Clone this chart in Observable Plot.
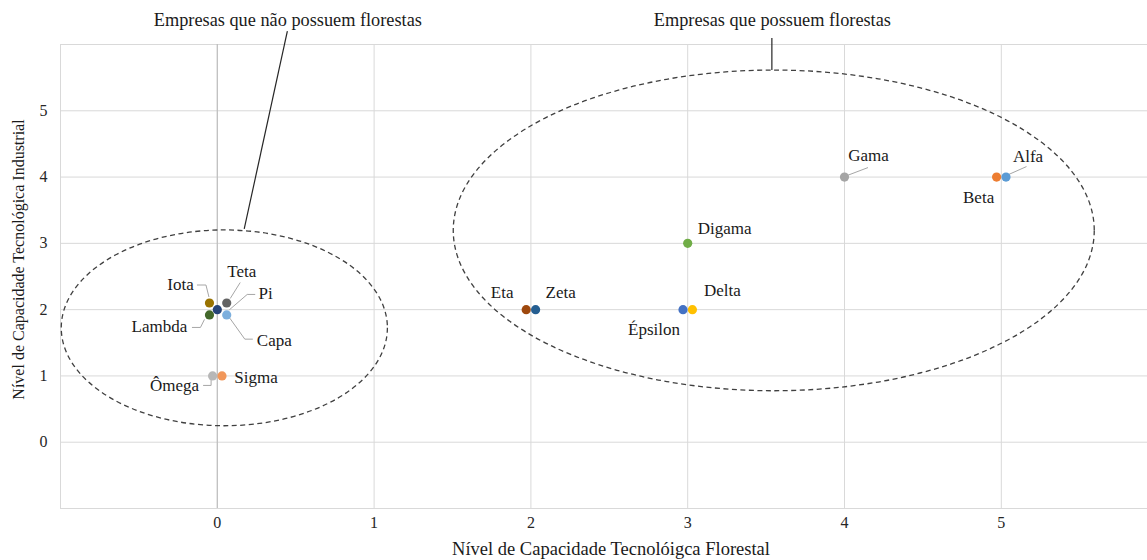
<!DOCTYPE html>
<html>
<head>
<meta charset="utf-8">
<script src="https://cdn.jsdelivr.net/npm/d3@7"></script>
<script src="https://cdn.jsdelivr.net/npm/@observablehq/plot@0.6"></script>
<style>
  html, body { margin: 0; padding: 0; background: #fff; overflow: hidden; }
</style>
</head>
<body>
<div id="chart"></div>
<script>
// ---- data ----
const empresas = ["Alfa", "Beta", "Gama", "Digama", "Delta", "Épsilon", "Zeta", "Eta", "Teta", "Iota", "Capa", "Lambda", "Pi", "Sigma", "Ômega"];
const florestal = [5.03, 4.97, 4, 3, 3.03, 2.97, 2.03, 1.97, 0.06, -0.05, 0, -0.05, 0.06, 0.03, -0.03];
const industrial = [4, 4, 4, 3, 2, 2, 2, 2, 2.1, 2.1, 2, 1.92, 1.92, 1, 1];
const cores = ["#5B9BD5", "#ED7D31", "#A5A5A5", "#70AD47", "#FFC000", "#4472C4", "#255E91", "#9E480E", "#636363", "#997300", "#264478", "#43682B", "#7CAFDD", "#F1975A", "#B7B7B7"];
const xTicks = [0, 1, 2, 3, 4, 5];
const yTicks = [0, 1, 2, 3, 4, 5];
const xTitle = "Nível de Capacidade Tecnolóigca Florestal";
const yTitle = "Nível de Capacidade Tecnológica Industrial";
const grupos = ["Empresas que não possuem florestas", "Empresas que possuem florestas"];

// ---- layout (label placement in px, ellipses / callouts in data units) ----
const labelLayout = {
  "Alfa":    {dx: 22, dy: -21, leader: [[3, -2], [21, -10]]},
  "Beta":    {dx: -18, dy: 20},
  "Gama":    {dx: 24, dy: -22, leader: [[3, -1], [24, -9]]},
  "Digama":  {dx: 37, dy: -15},
  "Delta":   {dx: 30, dy: -19},
  "Épsilon": {dx: -29, dy: 20},
  "Zeta":    {dx: 25, dy: -17},
  "Eta":     {dx: -24, dy: -17},
  "Teta":    {dx: 15, dy: -31, leader: [[4, -4], [14, -20]]},
  "Iota":    {dx: -29, dy: -18, leader: [[-12, -17.5], [-3, -17.5], [0, -5.5]]},
  "Capa":    {dx: 57, dy: 31, leader: [[36, 30], [28, 30], [13, 9]]},
  "Lambda":  {dx: -50, dy: 12, leader: [[-17, 13], [-8.5, 13], [-4.5, 5]]},
  "Pi":      {dx: 39, dy: -21, leader: [[29, -20], [21, -20], [3, -4.5]]},
  "Sigma":   {dx: 34, dy: 2},
  "Ômega":   {dx: -38, dy: 10, leader: [[-9, 10], [-1, 10], [-1, 3.5]]}
};
const ellipses = [
  {cx: 0.048, cy: 1.718, rx: 1.04, ry: 1.477},
  {cx: 3.552, cy: 3.188, rx: 2.044, ry: 2.419}
];
const callouts = [
  {tx: 0.45, ty: 6.36, x1: 0.45, y1: 6.195, x2: 0.175, y2: 3.21},
  {tx: 3.54, ty: 6.36, x1: 3.54, y1: 6.09, x2: 3.54, y2: 5.607}
];

const data = empresas.map((name, i) => ({name, x: florestal[i], y: industrial[i], color: cores[i]}));

const W = 1147, H = 560;
const mL = 60, mR = 0, mT = 44, mB = 52;
const unitX = 156.8;
const xMax = -1 + (W - mL - mR) / unitX;

const svgNS = "http://www.w3.org/2000/svg";

const leadersMark = Plot.dot(data, {
  x: "x", y: "y", r: 0,
  render: (index, scales) => {
    const g = document.createElementNS(svgNS, "g");
    for (const d of data) {
      const L = labelLayout[d.name];
      if (!L.leader) continue;
      const px = scales.x(d.x), py = scales.y(d.y);
      const p = document.createElementNS(svgNS, "path");
      p.setAttribute("d", "M" + L.leader.map(([a, b]) => (px + a) + "," + (py + b)).join("L"));
      p.setAttribute("fill", "none");
      p.setAttribute("stroke", "#a6a6a6");
      p.setAttribute("stroke-width", "1");
      g.appendChild(p);
    }
    return g;
  }
});

const ellipseMark = Plot.dot(ellipses, {
  x: "cx", y: "cy", r: 0,
  render: (index, scales) => {
    const g = document.createElementNS(svgNS, "g");
    for (const e of ellipses) {
      const el = document.createElementNS(svgNS, "ellipse");
      const cx = scales.x(e.cx), cy = scales.y(e.cy);
      el.setAttribute("cx", cx);
      el.setAttribute("cy", cy);
      el.setAttribute("rx", Math.abs(scales.x(e.cx + e.rx) - cx));
      el.setAttribute("ry", Math.abs(scales.y(e.cy + e.ry) - cy));
      el.setAttribute("fill", "none");
      el.setAttribute("stroke", "#404040");
      el.setAttribute("stroke-width", "1.3");
      el.setAttribute("stroke-dasharray", "5 3.5");
      g.appendChild(el);
    }
    for (const c of callouts) {
      const ln = document.createElementNS(svgNS, "line");
      ln.setAttribute("x1", scales.x(c.x1));
      ln.setAttribute("y1", scales.y(c.y1));
      ln.setAttribute("x2", scales.x(c.x2));
      ln.setAttribute("y2", scales.y(c.y2));
      ln.setAttribute("stroke", "#262626");
      ln.setAttribute("stroke-width", "1.2");
      g.appendChild(ln);
    }
    return g;
  }
});

const labelMarks = data.map(d => Plot.text([d], {
  x: "x", y: "y", text: "name",
  dx: labelLayout[d.name].dx, dy: labelLayout[d.name].dy,
  fill: "#1a1a1a", fontSize: 17
}));

const gridX = [-1, ...xTicks];
const gridY = [-1, ...yTicks, 6];

const chart = Plot.plot({
  width: W, height: H,
  marginLeft: mL, marginRight: mR, marginTop: mT, marginBottom: mB,
  x: {domain: [-1, xMax], axis: null},
  y: {domain: [-1, 6], axis: null},
  color: {type: "identity"},
  style: {fontFamily: "'Liberation Serif', 'Times New Roman', serif", fontSize: "16px", background: "#fff", overflow: "visible"},
  marks: [
    Plot.ruleX(gridX.filter(v => v !== 0), {stroke: "#d9d9d9", strokeWidth: 1}),
    Plot.ruleY(gridY, {stroke: "#d9d9d9", strokeWidth: 1}),
    Plot.ruleX([0], {stroke: "#bfbfbf", strokeWidth: 1.3}),
    Plot.axisX(xTicks, {tickSize: 0, tickPadding: 8, label: null, tickFormat: d => String(d), fontSize: 16, fill: "#262626"}),
    Plot.axisY(yTicks, {tickSize: 0, tickPadding: 13, label: null, tickFormat: d => String(d), fontSize: 16, fill: "#262626"}),
    Plot.text([xTitle], {frameAnchor: "bottom", text: d => d, textAnchor: "middle", lineAnchor: "middle", dx: 7, dy: 41, fontSize: 18.5, fill: "#1a1a1a"}),
    Plot.text([yTitle], {frameAnchor: "left", text: d => d, textAnchor: "middle", lineAnchor: "middle", rotate: -90, dx: -42, dy: -17, fontSize: 16, fill: "#1a1a1a"}),
    ellipseMark,
    Plot.text(callouts.map((c, i) => ({...c, label: grupos[i]})), {x: "tx", y: "ty", text: "label", fontSize: 18.3, fill: "#1a1a1a"}),
    leadersMark,
    Plot.dot(data, {x: "x", y: "y", fill: "color", r: 4.6, stroke: "none"}),
    ...labelMarks
  ]
});

document.getElementById("chart").appendChild(chart);
</script>
</body>
</html>
